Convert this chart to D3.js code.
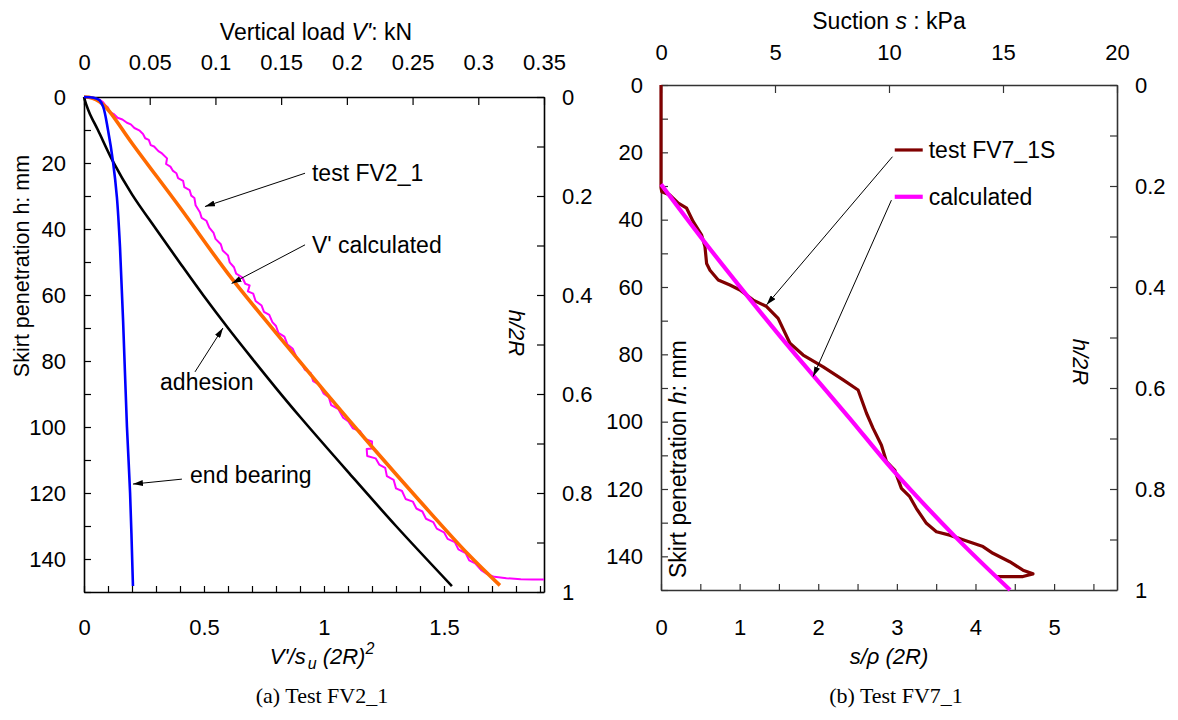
<!DOCTYPE html>
<html>
<head>
<meta charset="utf-8">
<script src="https://cdn.jsdelivr.net/npm/d3@7"></script>
<style>
  body { margin: 0; background: #fff; }
  svg { display: block; font-family: "Liberation Sans", Arial, sans-serif; }
</style>
</head>
<body>
<svg id="chart" width="1178" height="720"></svg>
<script>
// ---------- Panel (a): test FV2_1, penetration vs. vertical load ----------
// [V'/su(2R)^2, h (mm)]
const testFV2 = [
  [0,0],[0.03,0.1],[0.05,0.5],[0.067,0.9],[0.08,1.6],[0.09,2.6],[0.1,3.2],[0.108,4.6],
  [0.125,5.2],[0.14,6.3],[0.16,6.8],[0.179,7.8],[0.195,8.3],[0.21,9.4],[0.23,10.1],
  [0.246,11.2],[0.255,12.5],[0.27,13],[0.278,14.6],[0.292,15],[0.31,16.4],[0.325,17.1],
  [0.346,18.6],[0.342,20.3],[0.36,21.1],[0.371,22.4],[0.385,23.1],[0.392,24.6],[0.413,25.4],
  [0.418,27.3],[0.44,28.2],[0.447,29.9],[0.46,30.6],[0.465,32.8],[0.483,34.9],[0.49,36.6],
  [0.51,37.5],[0.522,39.6],[0.54,41.2],[0.548,43],[0.57,44.6],[0.578,46.5],[0.6,48],
  [0.607,50.1],[0.625,51.6],[0.634,53.5],[0.66,54.7],[0.672,56.6],[0.69,57.1],[0.683,58.9],
  [0.705,59.6],[0.715,61.8],[0.74,63.2],[0.75,65.1],[0.772,66],[0.785,68.2],[0.8,69.4],
  [0.81,71.5],[0.835,72.6],[0.848,75],[0.87,76.3],[0.888,79.2],[0.905,80.4],[0.92,82.6],
  [0.945,83.7],[0.955,86.1],[0.98,87.2],[0.998,89.8],[1.02,91],[1.03,93.4],[1.06,94.6],
  [1.08,97.2],[1.1,98.2],[1.12,100.4],[1.15,101.2],[1.17,103.6],[1.2,104.4],[1.2,106.5],
  [1.178,106.7],[1.18,108.8],[1.215,109.5],[1.23,111.4],[1.255,112.4],[1.262,114.9],
  [1.29,116],[1.3,118.6],[1.325,119.4],[1.34,121.8],[1.37,122.6],[1.385,124.7],[1.41,125.6],
  [1.425,127.8],[1.455,128.8],[1.47,130.8],[1.5,131.9],[1.515,133.9],[1.545,134.9],
  [1.56,137.1],[1.59,138.2],[1.605,140.4],[1.63,141.3],[1.655,143.4],[1.68,144.6],
  [1.71,145.4],[1.76,145.8],[1.82,146.1],[1.87,146.2],[1.917,146.2]
];
const calcV = [
  [0,0],[0.02,0.1],[0.05,0.8],[0.08,2.3],[0.11,4.7],[0.2,14],[0.4,33.5],[0.6,53.5],
  [0.8,71.5],[1.0,89],[1.2,106],[1.4,122.5],[1.6,138.5],[1.733,148]
];
const adhesion = [
  [0,0],[0.008,2],[0.025,5.2],[0.058,10],[0.121,19.6],[0.2,29.5],[0.3,40],[0.4,50.3],
  [0.5,60.4],[0.6,70],[0.7,79.2],[0.8,88.2],[0.9,96.9],[1.1,113.6],[1.3,130],[1.533,148.2]
];
const endBearing = [
  [0,0],[0.04,0.2],[0.065,1],[0.08,3],[0.1,10],[0.121,19.7],[0.137,30.3],[0.15,45.5],
  [0.163,68],[0.179,100],[0.192,120],[0.204,148.2]
];

// axis ticks
const normMax = 1.9167;                 // 0.35 kN expressed as V'/su(2R)^2
const loadTicksKN = [0,0.05,0.1,0.15,0.2,0.25,0.3,0.35];
const normTicks = [0,0.1,0.2,0.3,0.4,0.5,0.6,0.7,0.8,0.9,1,1.1,1.2,1.3,1.4,1.5,1.6,1.7,1.8,1.9];
const normLabels = [0,0.5,1,1.5];
const depthTicks = [0,10,20,30,40,50,60,70,80,90,100,110,120,130,140,150];
const depthLabels = [0,20,40,60,80,100,120,140];
const ratioTicks = [0,0.1,0.2,0.3,0.4,0.5,0.6,0.7,0.8,0.9,1];
const ratioLabels = [0,0.2,0.4,0.6,0.8,1];

// ---------- Panel (b): test FV7_1, penetration vs. suction ----------
// [s/ρ(2R), h (mm)]
const testFV7 = [
  [0,0],[0,30.5],[0.01,31.7],[0.114,32.7],[0.22,35.1],[0.326,36.6],[0.41,40.6],[0.517,44.6],
  [0.559,48],[0.58,53],[0.623,55],[0.728,57.9],[0.877,59.4],[1.004,60.9],[1.173,63.9],
  [1.343,65.8],[1.49,69.3],[1.64,76.7],[1.808,80.2],[2.063,83.7],[2.317,87.6],[2.507,90.6],
  [2.614,97.5],[2.698,102],[2.804,107],[2.868,111.9],[2.973,114.4],[3.058,119.8],
  [3.164,122.3],[3.249,125.8],[3.376,130.2],[3.503,132.7],[3.672,133.7],[3.841,135.1],
  [4.095,137.1],[4.222,139.1],[4.435,141.6],[4.604,144.1],[4.731,145.2],[4.604,146],[4.266,146]
];
const calcSuction = [
  [0,29.5],[0.5,45],[1.0,59.8],[1.5,74.2],[1.94,86.4],[2.4,99],[2.95,114.4],[3.735,134],[4.44,150]
];
const suctionMax = 5.8;                 // 20 kPa expressed as s/ρ(2R)
const suctionTicksKPa = [0,5,10,15,20];
const suctionNormTicks = [0,0.5,1,1.5,2,2.5,3,3.5,4,4.5,5,5.5];
const suctionNormLabels = [0,1,2,3,4,5];

// ---------- drawing ----------
const svg = d3.select("#chart");
const FONT = "'Liberation Sans', Arial, sans-serif";

const defs = svg.append("defs");
defs.append("marker")
  .attr("id", "arrow").attr("viewBox", "0 0 10 6")
  .attr("refX", 10).attr("refY", 3)
  .attr("markerWidth", 10).attr("markerHeight", 6)
  .attr("markerUnits", "userSpaceOnUse").attr("orient", "auto")
  .append("path").attr("d", "M0,0L10,3L0,6Z").attr("fill", "#000");

function fmt(d) { return String(+d.toFixed(3)); }

function drawAxis(gen, transform, values, labels, size, pad, color) {
  const isLabel = d => labels.some(l => Math.abs(l - d) < 1e-9);
  const g = svg.append("g")
    .attr("transform", transform)
    .call(gen.tickValues(values).tickSizeInner(-size).tickSizeOuter(0)
      .tickPadding(pad).tickFormat(d => isLabel(d) ? fmt(d) : ""));
  g.attr("font-family", FONT).attr("font-size", 22);
  g.select(".domain").attr("stroke", color).attr("stroke-width", 1.6);
  g.selectAll(".tick line").attr("stroke", color).attr("stroke-width", 1.2);
  g.selectAll(".tick text").attr("fill", "#000");
  return g;
}

function panel(cfg) {
  const x = d3.scaleLinear().domain([0, cfg.xMax]).range([cfg.left, cfg.right]);
  const y = d3.scaleLinear().domain([0, 150]).range([cfg.top, cfg.bottom]);
  const xTop = d3.scaleLinear().domain(cfg.topDomain).range([cfg.left, cfg.right]);
  const yRatio = d3.scaleLinear().domain([0, 1]).range([cfg.top, cfg.bottom]);

  drawAxis(d3.axisTop(xTop), `translate(0,${cfg.top})`, cfg.topTicks, cfg.topTicks, 8, cfg.topPad, cfg.axisColor);
  drawAxis(d3.axisBottom(x), `translate(0,${cfg.bottom})`, cfg.botTicks, cfg.botLabels, 6, cfg.botPad, cfg.axisColor);
  drawAxis(d3.axisLeft(y), `translate(${cfg.left},0)`, depthTicks, depthLabels, 7, 18, cfg.axisColor);
  drawAxis(d3.axisRight(yRatio), `translate(${cfg.right},0)`, ratioTicks, ratioLabels, 7, 18, cfg.axisColor);
  return { x, y };
}

const A = panel({
  left: 84, right: 544, top: 97, bottom: 592, xMax: normMax,
  topDomain: [0, 0.35], topTicks: loadTicksKN, topPad: 27,
  botTicks: normTicks, botLabels: normLabels, botPad: 27, axisColor: "#000"
});
const B = panel({
  left: 661, right: 1117, top: 85, bottom: 590, xMax: suctionMax,
  topDomain: [0, 20], topTicks: suctionTicksKPa, topPad: 25,
  botTicks: suctionNormTicks, botLabels: suctionNormLabels, botPad: 29, axisColor: "#333"
});

function curve(P, data, color, width, kind) {
  const line = d3.line().x(d => P.x(d[0])).y(d => P.y(d[1])).curve(kind || d3.curveLinear);
  svg.append("path").datum(data).attr("d", line)
    .attr("fill", "none").attr("stroke", color).attr("stroke-width", width)
    .attr("stroke-linejoin", "round").attr("stroke-linecap", "butt");
}

curve(A, testFV2, "#ff00ff", 2);
curve(A, calcV, "#ff6a00", 3.6, d3.curveCatmullRom);
curve(A, adhesion, "#000", 2.6, d3.curveCatmullRom);
curve(A, endBearing, "#0000ff", 2.6, d3.curveCatmullRom);

curve(B, testFV7, "#800000", 3.2);
curve(B, calcSuction, "#ff00ff", 4.2, d3.curveCatmullRom);

// ---------- annotations ----------
const notesA = [
  { text: "test FV2_1",    from: [0.921, 23.1],  tip: [0.504, 33.2], at: [0.95, 23.1] },
  { text: "V' calculated", from: [0.921, 44.8],  tip: [0.615, 56.5], at: [0.95, 44.8] },
  { text: "adhesion",      from: [0.4625, 83.3], tip: [0.579, 70],   at: [0.317, 86.4] },
  { text: "end bearing",   from: [0.408, 115.8], tip: [0.204, 117.3], at: [0.442, 114.5] }
];
const legendB = [
  { text: "test FV7_1S", key: [2.973, 3.329], h: 19.3, color: "#800000", width: 3.2,
    from: [2.944, 21.3], tip: [1.343, 65.3] },
  { text: "calculated",  key: [2.973, 3.329], h: 33.2, color: "#ff00ff", width: 4.2,
    from: [2.931, 34.2], tip: [1.935, 86.6] }
];
const textX = 3.405;

function leader(P, from, tip) {
  svg.append("line")
    .attr("x1", P.x(from[0])).attr("y1", P.y(from[1]))
    .attr("x2", P.x(tip[0])).attr("y2", P.y(tip[1]))
    .attr("stroke", "#000").attr("stroke-width", 1)
    .attr("marker-end", "url(#arrow)");
}
function label(x, y, text, size) {
  return svg.append("text").attr("x", x).attr("y", y).attr("dy", "0.35em")
    .attr("font-family", FONT).attr("font-size", size || 23).attr("fill", "#000").text(text);
}

notesA.forEach(n => {
  leader(A, n.from, n.tip);
  label(A.x(n.at[0]), A.y(n.at[1]), n.text);
});
legendB.forEach(n => {
  svg.append("line")
    .attr("x1", B.x(n.key[0])).attr("x2", B.x(n.key[1]))
    .attr("y1", B.y(n.h)).attr("y2", B.y(n.h))
    .attr("stroke", n.color).attr("stroke-width", n.width);
  leader(B, n.from, n.tip);
  label(B.x(textX), B.y(n.h), n.text);
});

// ---------- axis titles ----------
function title(x, y, parts, opts) {
  opts = opts || {};
  const t = svg.append("text")
    .attr("x", x).attr("y", y)
    .attr("text-anchor", opts.anchor || "middle")
    .attr("font-family", opts.family || FONT)
    .attr("font-size", opts.size || 22).attr("fill", "#000");
  if (opts.rotate) t.attr("transform", `rotate(${opts.rotate},${x},${y})`);
  parts.forEach(p => {
    const s = t.append("tspan").text(p.t);
    if (p.i) s.attr("font-style", "italic");
    if (p.dy) s.attr("dy", p.dy);
    if (p.dx) s.attr("dx", p.dx);
    if (p.fs) s.attr("font-size", p.fs);
  });
  return t;
}

title(316, 40, [{ t: "Vertical load " }, { t: "V'", i: true }, { t: ": kN" }], { size: 23 });
title(889, 29, [{ t: "Suction " }, { t: "s", i: true }, { t: " : kPa" }], { size: 23 });

title(322, 664, [
  { t: "V'/s", i: true }, { t: "u", i: true, fs: 16, dy: 5, dx: 2 },
  { t: " (2R)", i: true, dy: -5 }, { t: "2", i: true, fs: 16, dy: -10 }
]);
title(889, 664, [{ t: "s/", i: true }, { t: "ρ", i: true }, { t: " (2R)", i: true }]);

title(29, 266, [{ t: "Skirt penetration h: mm" }], { rotate: -90, size: 21.5 });
title(686, 578, [{ t: "Skirt penetration " }, { t: "h", i: true }, { t: ": mm" }],
  { rotate: -90, size: 23, anchor: "start" });

title(509, 333, [{ t: "h/2R", i: true }], { rotate: 90 });
title(1073, 362, [{ t: "h/2R", i: true }], { rotate: 90 });

// ---------- captions ----------
const SERIF = "'Liberation Serif', 'DejaVu Serif', serif";
title(322, 703, [{ t: "(a) Test FV2_1" }], { family: SERIF, size: 22 });
title(896, 703, [{ t: "(b) Test FV7_1" }], { family: SERIF, size: 22 });
</script>
</body>
</html>
